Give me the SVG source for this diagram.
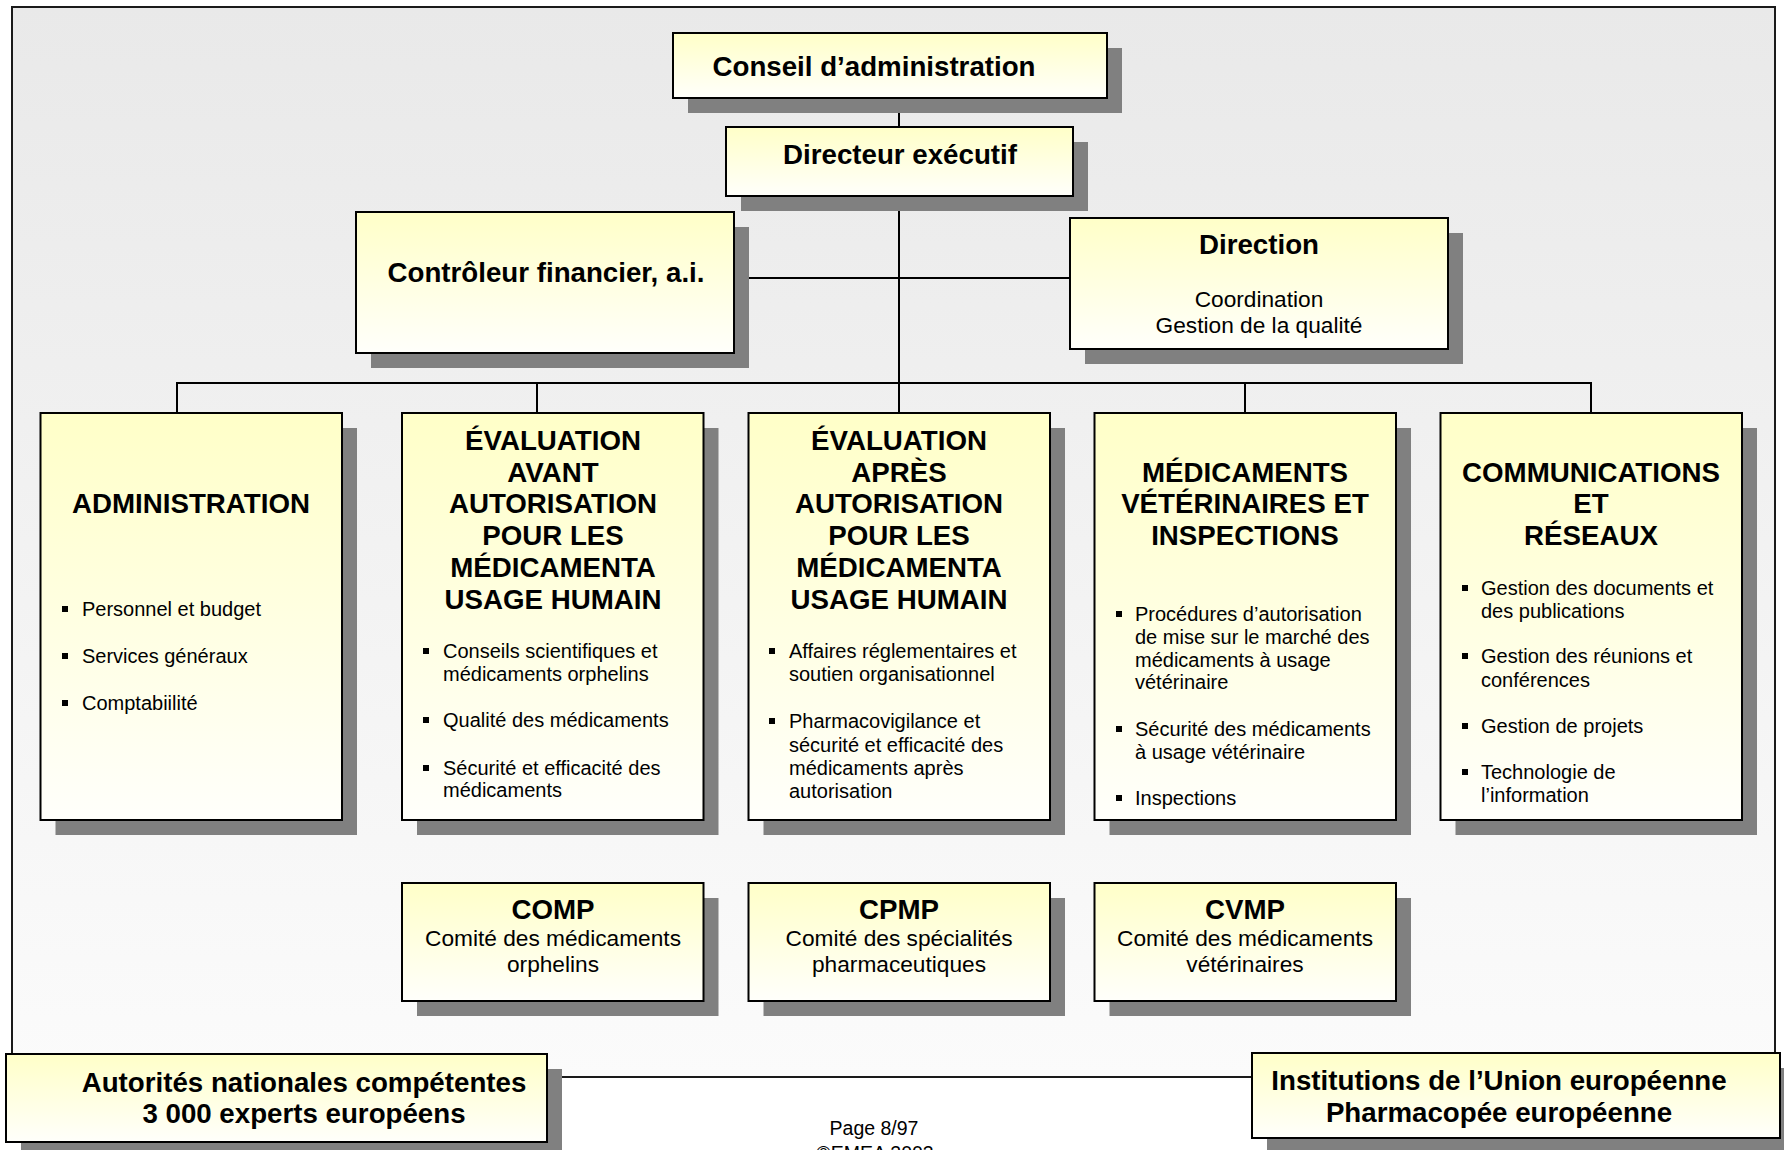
<svg xmlns="http://www.w3.org/2000/svg" width="1784" height="1150" viewBox="0 0 1784 1150">
<defs>
<linearGradient id="bg" x1="0" y1="0" x2="0" y2="1">
<stop offset="0" stop-color="#e9e9e9"/>
<stop offset="1" stop-color="#fbfbfb"/>
</linearGradient>
<linearGradient id="box" x1="0" y1="0" x2="0" y2="1">
<stop offset="0" stop-color="#ffffc8"/>
<stop offset="1" stop-color="#fffffb"/>
</linearGradient>
<style>
.frame{fill:url(#bg);stroke:#1a1a1a;stroke-width:2}
.sh{fill:#808080}
.bx{fill:url(#box);stroke:#000;stroke-width:2}
.ln{stroke:#000;stroke-width:2;fill:none}
.b{font-family:"Liberation Sans",Arial,sans-serif;font-weight:bold;font-size:27.7px;fill:#000;text-anchor:middle}
.r{font-family:"Liberation Sans",Arial,sans-serif;font-size:22.7px;fill:#000;text-anchor:middle}
.li{font-family:"Liberation Sans",Arial,sans-serif;font-size:20px;fill:#000}
.bu{fill:#000}
.ft{font-family:"Liberation Sans",Arial,sans-serif;font-size:19.5px;fill:#000;text-anchor:middle}
</style>
</defs>
<rect x="0" y="0" width="1784" height="1150" fill="#fff"/>
<rect id="frame" class="frame" x="12" y="7" width="1763" height="1070"/>

<g id="connectors">
<line class="ln" x1="899" y1="98" x2="899" y2="127"/>
<line class="ln" x1="899" y1="196" x2="899" y2="413"/>
<line class="ln" x1="734" y1="278" x2="1070" y2="278"/>
<line class="ln" x1="177" y1="383" x2="1591" y2="383"/>
<line class="ln" x1="177" y1="382" x2="177" y2="413"/>
<line class="ln" x1="537" y1="383" x2="537" y2="413"/>
<line class="ln" x1="1245" y1="383" x2="1245" y2="413"/>
<line class="ln" x1="1591" y1="382" x2="1591" y2="413"/>
</g>

<g id="conseil">
<rect class="sh" x="688" y="48" width="434" height="65"/>
<rect class="bx" x="673" y="33" width="434" height="65"/>
<text class="b" x="874" y="76">Conseil d’administration</text>
</g>

<g id="directeur">
<rect class="sh" x="741" y="142" width="347" height="69"/>
<rect class="bx" x="726" y="127" width="347" height="69"/>
<text class="b" x="900" y="164">Directeur exécutif</text>
</g>

<g id="controleur">
<rect class="sh" x="371" y="227" width="378" height="141"/>
<rect class="bx" x="356" y="212" width="378" height="141"/>
<text class="b" x="546" y="282">Contrôleur financier, a.i.</text>
</g>

<g id="direction">
<rect class="sh" x="1085" y="233" width="378" height="131"/>
<rect class="bx" x="1070" y="218" width="378" height="131"/>
<text class="b" x="1259" y="254">Direction</text>
<text class="r" x="1259" y="307">Coordination</text>
<text class="r" x="1259" y="333">Gestion de la qualité</text>
</g>

<g id="administration">
<rect class="sh" x="55.5" y="428" width="301.5" height="407"/>
<rect class="bx" x="40.5" y="413" width="301.5" height="407"/>
<text class="b" x="191" y="513">ADMINISTRATION</text>
<rect class="bu" x="62" y="606" width="6" height="6"/>
<text class="li" x="82" y="616">Personnel et budget</text>
<rect class="bu" x="62" y="653" width="6" height="6"/>
<text class="li" x="82" y="663">Services généraux</text>
<rect class="bu" x="62" y="700" width="6" height="6"/>
<text class="li" x="82" y="710">Comptabiilité</text>
</g>

<g id="eval-avant">
<rect class="sh" x="417" y="428" width="301.5" height="407"/>
<rect class="bx" x="402" y="413" width="301.5" height="407"/>
<text class="b" x="553" y="450">ÉVALUATION</text>
<text class="b" x="553" y="482">AVANT</text>
<text class="b" x="553" y="513">AUTORISATION</text>
<text class="b" x="553" y="545">POUR LES</text>
<text class="b" x="553" y="577">MÉDICAMENTA</text>
<text class="b" x="553" y="609">USAGE HUMAIN</text>
<rect class="bu" x="423" y="648" width="6" height="6"/>
<text class="li" x="443" y="658">Conseils scientifiques et</text>
<text class="li" x="443" y="681">médicaments orphelins</text>
<rect class="bu" x="423" y="717" width="6" height="6"/>
<text class="li" x="443" y="727">Qualité des médicaments</text>
<rect class="bu" x="423" y="765" width="6" height="6"/>
<text class="li" x="443" y="775">Sécurité et efficacité des</text>
<text class="li" x="443" y="797">médicaments</text>
</g>

<g id="eval-apres">
<rect class="sh" x="763.5" y="428" width="301.5" height="407"/>
<rect class="bx" x="748.5" y="413" width="301.5" height="407"/>
<text class="b" x="899" y="450">ÉVALUATION</text>
<text class="b" x="899" y="482">APRÈS</text>
<text class="b" x="899" y="513">AUTORISATION</text>
<text class="b" x="899" y="545">POUR LES</text>
<text class="b" x="899" y="577">MÉDICAMENTA</text>
<text class="b" x="899" y="609">USAGE HUMAIN</text>
<rect class="bu" x="769" y="648" width="6" height="6"/>
<text class="li" x="789" y="658">Affaires réglementaires et</text>
<text class="li" x="789" y="681">soutien organisationnel</text>
<rect class="bu" x="769" y="718" width="6" height="6"/>
<text class="li" x="789" y="728">Pharmacovigilance et</text>
<text class="li" x="789" y="752">sécurité et efficacité des</text>
<text class="li" x="789" y="775">médicaments après</text>
<text class="li" x="789" y="798">autorisation</text>
</g>

<g id="veterinaires">
<rect class="sh" x="1109.5" y="428" width="301.5" height="407"/>
<rect class="bx" x="1094.5" y="413" width="301.5" height="407"/>
<text class="b" x="1245" y="482">MÉDICAMENTS</text>
<text class="b" x="1245" y="513">VÉTÉRINAIRES ET</text>
<text class="b" x="1245" y="545">INSPECTIONS</text>
<rect class="bu" x="1116" y="611" width="6" height="6"/>
<text class="li" x="1135" y="621">Procédures d’autorisation</text>
<text class="li" x="1135" y="644">de mise sur le marché des</text>
<text class="li" x="1135" y="667">médicaments à usage</text>
<text class="li" x="1135" y="689">vétérinaire</text>
<rect class="bu" x="1116" y="726" width="6" height="6"/>
<text class="li" x="1135" y="736">Sécurité des médicaments</text>
<text class="li" x="1135" y="759">à usage vétérinaire</text>
<rect class="bu" x="1116" y="795" width="6" height="6"/>
<text class="li" x="1135" y="805">Inspections</text>
</g>

<g id="communications">
<rect class="sh" x="1455.5" y="428" width="301.5" height="407"/>
<rect class="bx" x="1440.5" y="413" width="301.5" height="407"/>
<text class="b" x="1591" y="482">COMMUNICATIONS</text>
<text class="b" x="1591" y="513">ET</text>
<text class="b" x="1591" y="545">RÉSEAUX</text>
<rect class="bu" x="1462" y="585" width="6" height="6"/>
<text class="li" x="1481" y="595">Gestion des documents et</text>
<text class="li" x="1481" y="618">des publications</text>
<rect class="bu" x="1462" y="653" width="6" height="6"/>
<text class="li" x="1481" y="663">Gestion des réunions et</text>
<text class="li" x="1481" y="687">conférences</text>
<rect class="bu" x="1462" y="723" width="6" height="6"/>
<text class="li" x="1481" y="733">Gestion de projets</text>
<rect class="bu" x="1462" y="769" width="6" height="6"/>
<text class="li" x="1481" y="779">Technologie de</text>
<text class="li" x="1481" y="802">l’information</text>
</g>

<g id="comp">
<rect class="sh" x="417" y="898" width="301.5" height="118"/>
<rect class="bx" x="402" y="883" width="301.5" height="118"/>
<text class="b" x="553" y="919">COMP</text>
<text class="r" x="553" y="946">Comité des médicaments</text>
<text class="r" x="553" y="972">orphelins</text>
</g>

<g id="cpmp">
<rect class="sh" x="763.5" y="898" width="301.5" height="118"/>
<rect class="bx" x="748.5" y="883" width="301.5" height="118"/>
<text class="b" x="899" y="919">CPMP</text>
<text class="r" x="899" y="946">Comité des spécialités</text>
<text class="r" x="899" y="972">pharmaceutiques</text>
</g>

<g id="cvmp">
<rect class="sh" x="1109.5" y="898" width="301.5" height="118"/>
<rect class="bx" x="1094.5" y="883" width="301.5" height="118"/>
<text class="b" x="1245" y="919">CVMP</text>
<text class="r" x="1245" y="946">Comité des médicaments</text>
<text class="r" x="1245" y="972">vétérinaires</text>
</g>

<g id="autorites">
<rect class="sh" x="21" y="1069" width="541" height="88"/>
<rect class="bx" x="6" y="1054" width="541" height="88"/>
<text class="b" x="304" y="1092">Autorités nationales compétentes</text>
<text class="b" x="304" y="1123">3 000 experts européens</text>
</g>

<g id="institutions">
<rect class="sh" x="1267" y="1068" width="528" height="88"/>
<rect class="bx" x="1252" y="1053" width="528" height="85"/>
<text class="b" x="1499" y="1090">Institutions de l’Union européenne</text>
<text class="b" x="1499" y="1122">Pharmacopée européenne</text>
</g>

<g id="footer">
<text class="ft" x="874" y="1135">Page 8/97</text>
<text class="ft" x="875" y="1160">©EMEA 2003</text>
</g>
</svg>
